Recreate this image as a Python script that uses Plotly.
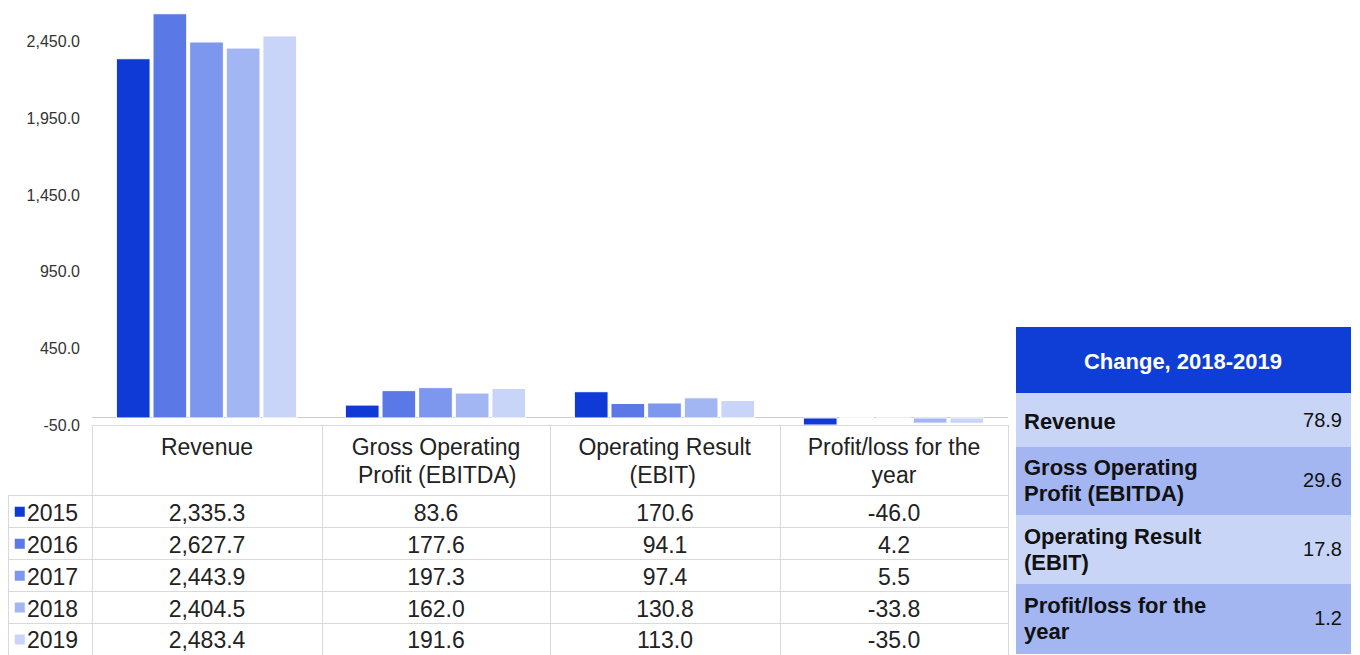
import plotly.graph_objects as go

# data
years = ["2015", "2016", "2017", "2018", "2019"]
categories = ["Revenue", "Gross Operating Profit (EBITDA)", "Operating Result (EBIT)", "Profit/loss for the year"]
header_lines = [["Revenue"], ["Gross Operating", "Profit (EBITDA)"],
                ["Operating Result", "(EBIT)"], ["Profit/loss for the", "year"]]
revenue = [2335.3, 2627.7, 2443.9, 2404.5, 2483.4]
ebitda = [83.6, 177.6, 197.3, 162.0, 191.6]
ebit = [170.6, 94.1, 97.4, 130.8, 113.0]
profit = [-46.0, 4.2, 5.5, -33.8, -35.0]
y_ticks = [-50, 450, 950, 1450, 1950, 2450]

change_title = "Change, 2018-2019"
change_lines = [["Revenue"], ["Gross Operating", "Profit (EBITDA)"],
                ["Operating Result", "(EBIT)"], ["Profit/loss for the", "year"]]
change_values = [78.9, 29.6, 17.8, 1.2]

colors = ["#0F3AD6", "#5A78E6", "#7E97EE", "#A3B6F4", "#C9D5F8"]
FONT = "Liberation Sans, Arial, sans-serif"
GRID = "#d9d9d9"
LIGHT, MID, DARK = "#C9D5F7", "#A3B6F2", "#0F3ED6"
W, H = 1360, 655
NB = "\u00a0"
# invisible first lines, used to push text down inside table cells
GHOST = "<span style='color:rgba(0,0,0,0)'>.</span><br>"
GHOST_SMALL = "<span style='font-size:6px;color:rgba(0,0,0,0)'>.</span><br>"


def fx(p):
    return p / W


def fy(p):
    return 1 - p / H


def span(t, size):
    return "<span style='font-size:%spx'>%s</span>" % (size, t)


fig = go.Figure()

# bars, one trace per year
series = [revenue, ebitda, ebit, profit]
for i, yr in enumerate(years):
    fig.add_trace(go.Bar(
        x=categories, y=[s[i] for s in series], name=yr,
        marker=dict(color=colors[i], line=dict(color="white", width=1)),
        showlegend=False, xaxis="x", yaxis="y",
    ))

# header texts, second line padded so both lines look centred
pads = [0, 1, 8, 10]
head = [""]
for lines, p in zip(header_lines, pads):
    parts = [span(lines[0], 23)] + [span(NB * p + l, 23) for l in lines[1:]]
    head.append("<br>".join(parts) + ("<br>" if len(lines) == 1 else ""))

# data table under the bars
clear = "rgba(0,0,0,0)"
HEAD_H, ROW_H = 70, 31.9
fig.add_trace(go.Table(
    domain=dict(x=[fx(8), fx(1008)], y=[0, fy(425)]),
    columnwidth=[84, 230, 228, 230, 228],
    header=dict(
        values=head, height=HEAD_H - 4,
        fill_color=[clear] + ["white"] * 4,
        line=dict(color=[clear] + [GRID] * 4, width=1),
        font=dict(family=FONT, size=21.5, color="#222"),
        align=["left", "center", "center", "center", "center"],
    ),
    cells=dict(
        values=[[NB + "\u2009" + y for y in years], revenue, ebitda, ebit, profit],
        format=["", ",.1f", ",.1f", ",.1f", ",.1f"],
        height=ROW_H,
        fill_color=[clear] + ["white"] * 4,
        line=dict(color=GRID, width=1),
        font=dict(family=FONT, size=23, color="#222"),
        align=["left", "center", "center", "center", "center"],
    ),
))

# legend squares in first column
rows_top = 425 + HEAD_H
fig.add_trace(go.Scatter(
    x=["key"] * len(years), y=years, mode="markers",
    marker=dict(symbol="square", size=10, color=colors, line=dict(width=0)),
    showlegend=False, xaxis="x3", yaxis="y3", hoverinfo="skip",
))

# change table title
fig.add_trace(go.Table(
    domain=dict(x=[fx(1016), fx(1350)], y=[fy(393), fy(327)]),
    header=dict(values=[""], height=14, fill_color=DARK, line=dict(color=DARK, width=1)),
    cells=dict(
        values=[["<b>" + change_title + "</b>"]], height=52,
        fill_color=DARK, line=dict(color=DARK, width=1),
        font=dict(family=FONT, size=22, color="white"), align="center",
    ),
))

# change table body: first row as header, rest as cells
labels = ["<b>" + "<br>".join(span(l, 22) for l in lines) + "</b>" for lines in change_lines]
vals = ["%.1f" % v for v in change_values]
body_fill = [MID, LIGHT, MID]
fig.add_trace(go.Table(
    domain=dict(x=[fx(1016), fx(1350)], y=[0, fy(393)]),
    columnwidth=[250, 84],
    header=dict(
        values=[GHOST_SMALL + labels[0], GHOST_SMALL + span(vals[0], 20)],
        height=53, fill_color=LIGHT, line=dict(color=LIGHT, width=1),
        font=dict(family=FONT, size=[17.6, 15.5], color="#111"),
        align=["left", "right"],
    ),
    cells=dict(
        values=[labels[1:], [GHOST + span(v, 20) for v in vals[1:]]],
        height=69,
        fill_color=[body_fill, body_fill],
        line=dict(color=[body_fill, body_fill], width=1),
        font=dict(family=FONT, size=[20, 14.85], color="#111"),
        align=["left", "right"],
    ),
))

fig.update_layout(
    width=W, height=665,
    margin=dict(l=0, r=0, t=0, b=0),
    paper_bgcolor="white", plot_bgcolor="white",
    barmode="group", bargap=0.2, bargroupgap=0.08,
    font=dict(family=FONT, color="#333"),
    xaxis=dict(domain=[fx(92), fx(1008)], showticklabels=False, showgrid=False,
               showline=False, ticks=""),
    yaxis=dict(domain=[fy(425), 1], range=[-50, 2717],
               tickvals=y_ticks, ticktext=["{:,.1f}".format(v) for v in y_ticks],
               showgrid=False, zeroline=True,
               zerolinecolor="#cccccc", zerolinewidth=1,
               tickfont=dict(size=16, color="#333"), ticks="", ticklabelstandoff=11),
    xaxis3=dict(domain=[fx(8), fx(92)], type="category", range=[-0.14, 0.86],
                visible=False, anchor="y3"),
    yaxis3=dict(domain=[max(fy(rows_top + 5 * ROW_H), 0), fy(rows_top)], type="category",
                range=[4.5, -0.5], visible=False, anchor="x3"),
)

fig.write_html(
    "out.html",
    config={"displayModeBar": False, "responsive": False},
    post_script="document.body.style.margin='0px';document.body.style.overflow='hidden';",
)
